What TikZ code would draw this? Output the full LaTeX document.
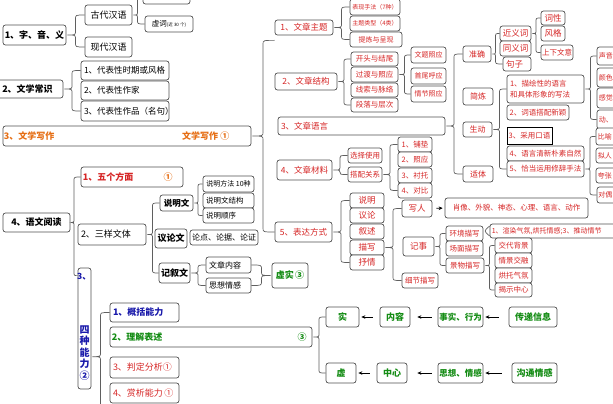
\documentclass[tikz,border=0pt]{standalone}
\usepackage{fontspec}
\newfontfamily\cjk{Noto Sans CJK SC}
\usetikzlibrary{calc,arrows.meta}
\definecolor{cred}{RGB}{214,38,38}
\definecolor{corg}{RGB}{230,110,20}
\definecolor{cgrn}{RGB}{20,140,20}
\definecolor{cblu}{RGB}{25,25,170}
\definecolor{cbox}{RGB}{80,80,80}
\definecolor{cbrc}{RGB}{95,95,95}
\newcommand\bx[7][]{%
  \pgfmathsetmacro\bw{#5-#3}%
  \pgfmathsetmacro\bh{#6-#4}%
  \pgfmathsetmacro\bt{#5-#3-6}%
  \node[box,minimum width=\bw pt,minimum height=\bh pt,#1] (#2) at ({(#3+#5)/2},{(#4+#6)/2}) {#7};%
}
\newcommand\brc[4][]{%
 \draw[brace,#1] let \p1=#2, \p2=#3, \p3=#4,
   \n1={(\x1+min(\x2,\x3))/2},
   \n2={min(4,abs(\y2-\y1)/2,abs(\y1-\y3)/2)} in
   (\x2,\y2) .. controls (\n1,\y2) .. (\n1,{\y2-\n2}) -- (\n1,{\y1+\n2})
   .. controls (\n1,\y1) .. ({\x1+1pt},\y1)
   .. controls (\n1,\y1) .. (\n1,{\y1-\n2}) -- (\n1,{\y3+\n2})
   .. controls (\n1,\y3) .. (\x3,\y3);}
\newcommand\rbrc[4][]{%
 \draw[brace,#1] let \p1=#2, \p2=#3, \p3=#4,
   \n1={(\x1+max(\x2,\x3))/2},
   \n2={min(4,abs(\y2-\y1)/2,abs(\y1-\y3)/2)} in
   (\x2,\y2) .. controls (\n1,\y2) .. (\n1,{\y2-\n2}) -- (\n1,{\y1+\n2})
   .. controls (\n1,\y1) .. ({\x1-1pt},\y1)
   .. controls (\n1,\y1) .. (\n1,{\y1-\n2}) -- (\n1,{\y3+\n2})
   .. controls (\n1,\y3) .. (\x3,\y3);}
\begin{document}
\begin{tikzpicture}[x=1pt,y=-1pt,
  box/.style={draw=cbox,fill=white,rounded corners=2.5pt,line width=0.7pt,inner sep=1pt,text=black,
              font=\cjk\fontsize{8}{9.5}\selectfont},
  lt/.style={align=left,text width=\bt pt},
  brace/.style={draw=cbrc,line width=0.7pt},
  arr/.style={-{Stealth[length=4pt,width=3.5pt]},line width=0.7pt,black},
  lbl/.style={inner sep=0pt},
  fa/.style={font=\cjk\fontsize{9}{10}\selectfont},
  fab/.style={font=\cjk\bfseries\fontsize{9}{10}\selectfont},
  fbb/.style={font=\cjk\bfseries\fontsize{8.5}{10}\selectfont},
  fb/.style={font=\cjk\fontsize{8.5}{10}\selectfont},
  fc/.style={font=\cjk\fontsize{8}{9.5}\selectfont},
  fd/.style={font=\cjk\fontsize{7.5}{11}\selectfont},
  fe/.style={font=\cjk\fontsize{7}{8}\selectfont},
  ff/.style={font=\cjk\fontsize{6}{7}\selectfont}]
\useasboundingbox (0,0) rectangle (613,404);
\clip (0,0) rectangle (613,404);
\fill[white] (0,0) rectangle (613,404);

% ---------- left column ----------
\bx[fab]{zy}{3}{25}{66}{45}{1、字、音、义}
\bx[fa]{gd}{85}{5}{132}{25}{古代汉语}
\bx[fa]{xd}{85}{37}{132}{57}{现代汉语}
\bx[fd]{sc}{143}{-10}{190}{4}{}
\bx[fd]{xc}{145}{16}{193}{32}{虚词{\fontsize{4.5}{5}\selectfont(近 30 个)}}
\bx[fab]{wc}{-8}{80}{63}{98}{2、文学常识}
\bx[fb,lt]{d1}{81}{61}{169}{80}{1、代表性时期或风格}
\bx[fb,lt]{d2}{81}{81}{169}{100}{2、代表性作家}
\bx[fb,lt]{d3}{81}{101}{169}{121}{3、代表性作品（名句）}
\bx{wx}{3}{126}{251}{146}{}
\node[lbl,fab,text=corg,anchor=west] (wxa) at ([xshift=1pt]wx.west) {3、文学写作};
\node[lbl,fab,text=corg,anchor=west] (wxb) at (182,136) {文学写作\ ①};
\bx[fab]{yd}{3}{213}{70}{232}{4、语文阅读}
\bx{wf}{81}{167}{183}{187}{}
\node[lbl,fab,text=cred,anchor=west] (wfa) at ([xshift=2pt]wf.west) {1、五个方面};
\node[lbl,fab,text=corg] (wfb) at (168,177) {①};
\bx[fa,lt]{sy}{78}{224}{146}{245}{2、三样文体}
\bx{nl}{78}{268}{91}{389}{}
\node[lbl,fbb,text=cblu] (nla) at (84,277) {3、};
\node[lbl,align=center,text=cblu,font=\cjk\bfseries\fontsize{10}{11.6}\selectfont] (nlc) at (84.5,353) {四\\种\\能\\力\\②};
\bx[fbb]{smw}{160}{195}{193}{211}{说明文}
\bx[fe]{sm1}{203}{176}{254}{192}{说明方法~10种}
\bx[fd,lt]{sm2}{203}{193}{254}{208}{说明文结构}
\bx[fd,lt]{sm3}{203}{208}{254}{223}{说明顺序}
\bx[fab]{ylw}{155}{229}{187}{248}{议论文}
\bx[fc]{yl1}{190}{230}{258}{245}{论点、论据、论证}
\bx[fab]{jxw}{159}{263}{190}{283}{记叙文}
\bx[fc,lt]{jx1}{206}{257}{251}{273}{文章内容}
\bx[fc,lt]{jx2}{206}{278}{251}{293}{思想情感}
\bx[fab,text=cgrn]{xs}{272}{263}{308}{288}{虚实\,③}
\bx[fab,text=cblu,lt]{gk}{110}{303}{179}{322}{1、概括能力}
\bx{lj}{110}{327}{312}{347}{}
\node[lbl,fab,text=cgrn,anchor=west] (lja) at ([xshift=2pt]lj.west) {2、理解表述};
\node[lbl,fab,text=cgrn] (ljb) at (302,337) {③};
\bx[fa,text=cred,lt]{pd}{110}{357}{179}{378}{3、判定分析①}
\bx[fa,text=cred,lt]{sx}{110}{383}{179}{403}{4、赏析能力\,①}

% ---------- green chain ----------
\bx[fab,text=cgrn]{shi}{326}{307}{359}{327}{实}
\bx[fab,text=cgrn]{nr}{380}{307}{410}{327}{内容}
\bx[fbb,text=cgrn]{ss}{438}{307}{483}{327}{事实、行为}
\bx[fab,text=cgrn]{cd}{509}{307}{557}{327}{传递信息}
\bx[fab,text=cgrn]{xu}{326}{363}{356}{383}{虚}
\bx[fab,text=cgrn]{zx}{377}{363}{407}{383}{中心}
\bx[fbb,text=cgrn]{sq}{438}{363}{483}{383}{思想、情感}
\bx[fab,text=cgrn]{gt}{512}{363}{557}{383}{沟通情感}

% ---------- right side ----------
\bx[fb,text=cred]{zt}{275}{20}{333}{35}{1、文章主题}
\bx[ff,text=cred]{zt1}{350}{-1}{400}{15}{表现手法（7种）}
\bx[ff,text=cred]{zt2}{350}{16}{400}{31}{主题类型（4类）}
\bx[fe,text=cred]{zt3}{350}{32}{402}{47}{提炼与呈现}
\bx[fb,text=cred]{jg}{275}{73}{337}{90}{2、文章结构}
\bx[fd,text=cred]{jg1}{351}{52}{398}{66}{开头与结尾}
\bx[fd,text=cred]{jg2}{351}{67}{398}{82}{过渡与照应}
\bx[fd,text=cred]{jg3}{351}{83}{398}{97}{线索与脉络}
\bx[fd,text=cred]{jg4}{351}{98}{398}{112}{段落与层次}
\bx[fe,text=cred]{zy1}{411}{47}{446}{63}{文题照应}
\bx[fe,text=cred]{zy2}{411}{68}{446}{84}{首尾呼应}
\bx[fe,text=cred]{zy3}{411}{86}{446}{102}{情节照应}
\bx[fb,text=cred,lt]{yy}{278}{117}{445}{135}{3、文章语言}
\bx[fc,text=cred]{zq}{463}{46}{491}{62}{准确}
\bx[fc,text=cred]{jl}{463}{88}{493}{105}{简炼}
\bx[fc,text=cred]{sd}{463}{122}{492}{137}{生动}
\bx[fc,text=cred]{st}{463}{166}{493}{182}{适体}
\bx[fb,text=cred]{jy}{500}{26}{531}{41}{近义词}
\bx[fb,text=cred]{ty}{500}{41}{531}{56}{同义词}
\bx[fb,text=cred,lt]{jz}{503}{57}{531}{71}{句子}
\bx[fb,text=cred]{cx}{541}{11}{565}{25}{词性}
\bx[fb,text=cred]{fg}{541}{26}{565}{41}{风格}
\bx[fd,text=cred]{sxw}{541}{45}{573}{60}{上下文意}
\bx[fd,text=cred,lt]{sd1}{507}{75}{584}{103}{1、描绘性的语言\\和具体形象的写法}
\bx[fd,text=cred]{sd2}{507}{105}{569}{120}{2、词语搭配新颖}
\bx[fd,text=cred,draw=black,sharp corners]{sd3}{507}{127}{552}{144}{3、采用口语}
\bx[fd,text=cred]{sd4}{507}{146}{584}{161}{4、语言清新朴素自然}
\bx[fd,text=cred]{sd5}{507}{161}{584}{177}{5、恰当运用修辞手法}
\bx{r1}{597}{47}{625}{65}{}
\bx{r2}{597}{68}{625}{87}{}
\bx{r3}{597}{88}{625}{108}{}
\bx{r4}{597}{110}{627}{129}{}
\node[lbl,fe,text=cred,anchor=west] (r1t) at ([xshift=2pt]r1.west) {声音};
\node[lbl,fe,text=cred,anchor=west] (r2t) at ([xshift=2pt]r2.west) {颜色};
\node[lbl,fe,text=cred,anchor=west] (r3t) at ([xshift=2pt]r3.west) {感觉};
\node[lbl,fe,text=cred,anchor=west] (r4t) at ([xshift=2pt]r4.west) {动、};
\bx{x1}{596}{128}{624}{145}{}
\bx{x2}{596}{148}{624}{163}{}
\bx{x3}{596}{168}{624}{183}{}
\bx{x4}{597}{187}{625}{203}{}
\node[lbl,fe,text=cred,anchor=west] (x1t) at ([xshift=2pt]x1.west) {比喻};
\node[lbl,fe,text=cred,anchor=west] (x2t) at ([xshift=2pt]x2.west) {拟人};
\node[lbl,fe,text=cred,anchor=west] (x3t) at ([xshift=2pt]x3.west) {夸张};
\node[lbl,fe,text=cred,anchor=west] (x4t) at ([xshift=1.5pt]x4.west) {对偶};
\bx[fb,text=cred]{cl}{277}{160}{332}{180}{4、文章材料}
\bx[fd,text=cred]{cl1}{348}{148}{382}{163}{选择使用}
\bx[fd,text=cred]{cl2}{348}{167}{382}{182}{搭配关系}
\bx[fd,text=cred]{cl3}{398}{137}{432}{152}{1、铺垫}
\bx[fd,text=cred]{cl4}{398}{152}{432}{167}{2、照应}
\bx[fd,text=cred]{cl5}{398}{168}{432}{183}{3、衬托}
\bx[fd,text=cred]{cl6}{398}{183}{432}{198}{4、对比}
\bx[fb,text=cred]{bd}{275}{222}{332}{242}{5、表达方式}
\bx[fb,text=cred]{b1}{350}{193}{384}{208}{说明}
\bx[fb,text=cred]{b2}{350}{208}{384}{223}{议论}
\bx[fb,text=cred]{b3}{350}{224}{384}{239}{叙述}
\bx[fb,text=cred]{b4}{350}{240}{384}{255}{描写}
\bx[fb,text=cred]{b5}{350}{255}{384}{270}{抒情}
\bx[fb,text=cred]{xr}{402}{200}{432}{217}{写人}
\bx[fd,text=cred]{xx}{445}{198}{588}{218}{肖像、外貌、神态、心理、语言、动作}
\bx[fb,text=cred]{js}{403}{237}{434}{256}{记事}
\bx[fd,text=cred]{xj}{402}{273}{438}{288}{细节描写}
\bx[fd,text=cred]{hj}{446}{226}{483}{241}{环境描写}
\bx[fd,text=cred]{cm}{446}{241}{483}{256}{场面描写}
\bx[fd,text=cred]{jw}{446}{258}{484}{273}{景物描写}
\bx{xrb}{490}{224}{640}{238}{}
\node[lbl,fe,text=cred,anchor=west] (xrbt) at ([xshift=2pt]xrb.west) {1、渲染气氛,烘托情感;3、推动情节};
\bx[fd,text=cred]{jd}{495}{238}{532}{253}{交代背景}
\bx[fd,text=cred]{qj}{495}{253}{532}{268}{情景交融}
\bx[fd,text=cred]{ht}{495}{268}{532}{283}{烘托气氛}
\bx[fd,text=cred]{jsz}{495}{283}{532}{297}{揭示中心}

% ---------- braces ----------
\coordinate (bgt) at ([yshift=-5pt]zt.south west);
\coordinate (ydb) at ([yshift=-8pt]nl.north west);
\coordinate (nlb) at (110,425);
\brc{(zy.east)}{(gd.west)}{(xd.west)}
\brc{(gd.east)}{(sc.west)}{(xc.west)}
\brc{(wc.east)}{(d1.west)}{(d3.west)}
\brc{(wx.east)}{(bgt)}{(bd.west)}
\brc{(yd.east)}{(wf.west)}{(ydb)}
\brc{(sy.east)}{(smw.west)}{(jxw.west)}
\brc{(smw.east)}{(sm1.west)}{(sm3.west)}
\brc{(jxw.east)}{(jx1.west)}{(jx2.west)}
\rbrc{(xs.west)}{(jx1.east)}{(jx2.east)}
\brc{(nl.east |- pd.north)}{(gk.west)}{(nlb)}
\brc{(lj.east)}{(shi.west)}{(xu.west)}
\brc{(zt.east)}{(zt1.west)}{(zt3.west)}
\brc{(jg.east)}{(jg1.west)}{(jg4.west)}
\brc{(jg2.east)}{(zy1.west)}{(zy3.west)}
\brc{(yy.east)}{(zq.west)}{(st.west)}
\brc{(zq.east)}{(jy.west)}{(jz.west)}
\brc{(jy.east)}{(cx.west)}{(sxw.west)}
\brc{(sd.east)}{(sd1.west)}{(sd5.west)}
\brc{(sd1.east)}{(r1.west)}{(r4.west)}
\brc{(sd5.east)}{(x1.west)}{(x4.west)}
\brc{(cl.east)}{(cl1.west)}{(cl2.west)}
\brc{(cl2.east)}{(cl3.west)}{(cl6.west)}
\brc{(bd.east)}{(b1.west)}{(b5.west)}
\brc{(b4.east)}{(xr.west)}{(xj.west)}
\brc{(js.east)}{(hj.west)}{(jw.west)}
\brc{(jw.east)}{(jd.west)}{(jsz.west)}
\draw[brace] ([yshift=5pt]xrb.west) .. controls ([xshift=-6pt]xrb.west) .. ([yshift=-5pt]xrb.west);

% ---------- arrows ----------
\draw[arr,shorten <=10pt,shorten >=2pt] (cd.west) -- (ss.east);
\draw[arr,shorten <=6pt,shorten >=7pt] (ss.west) -- (nr.east);
\draw[arr,shorten <=7pt,shorten >=2pt] (nr.west) -- (shi.east);
\draw[arr,shorten <=10pt,shorten >=2pt] (gt.west) -- (sq.east);
\draw[arr,shorten <=6pt,shorten >=10pt] (sq.west) -- (zx.east);
\draw[arr,shorten <=7pt,shorten >=2pt] (zx.west) -- (xu.east);
\draw[arr,shorten <=4pt,shorten >=2pt] (xr.east) -- (xx.west);
\end{tikzpicture}
\end{document}
